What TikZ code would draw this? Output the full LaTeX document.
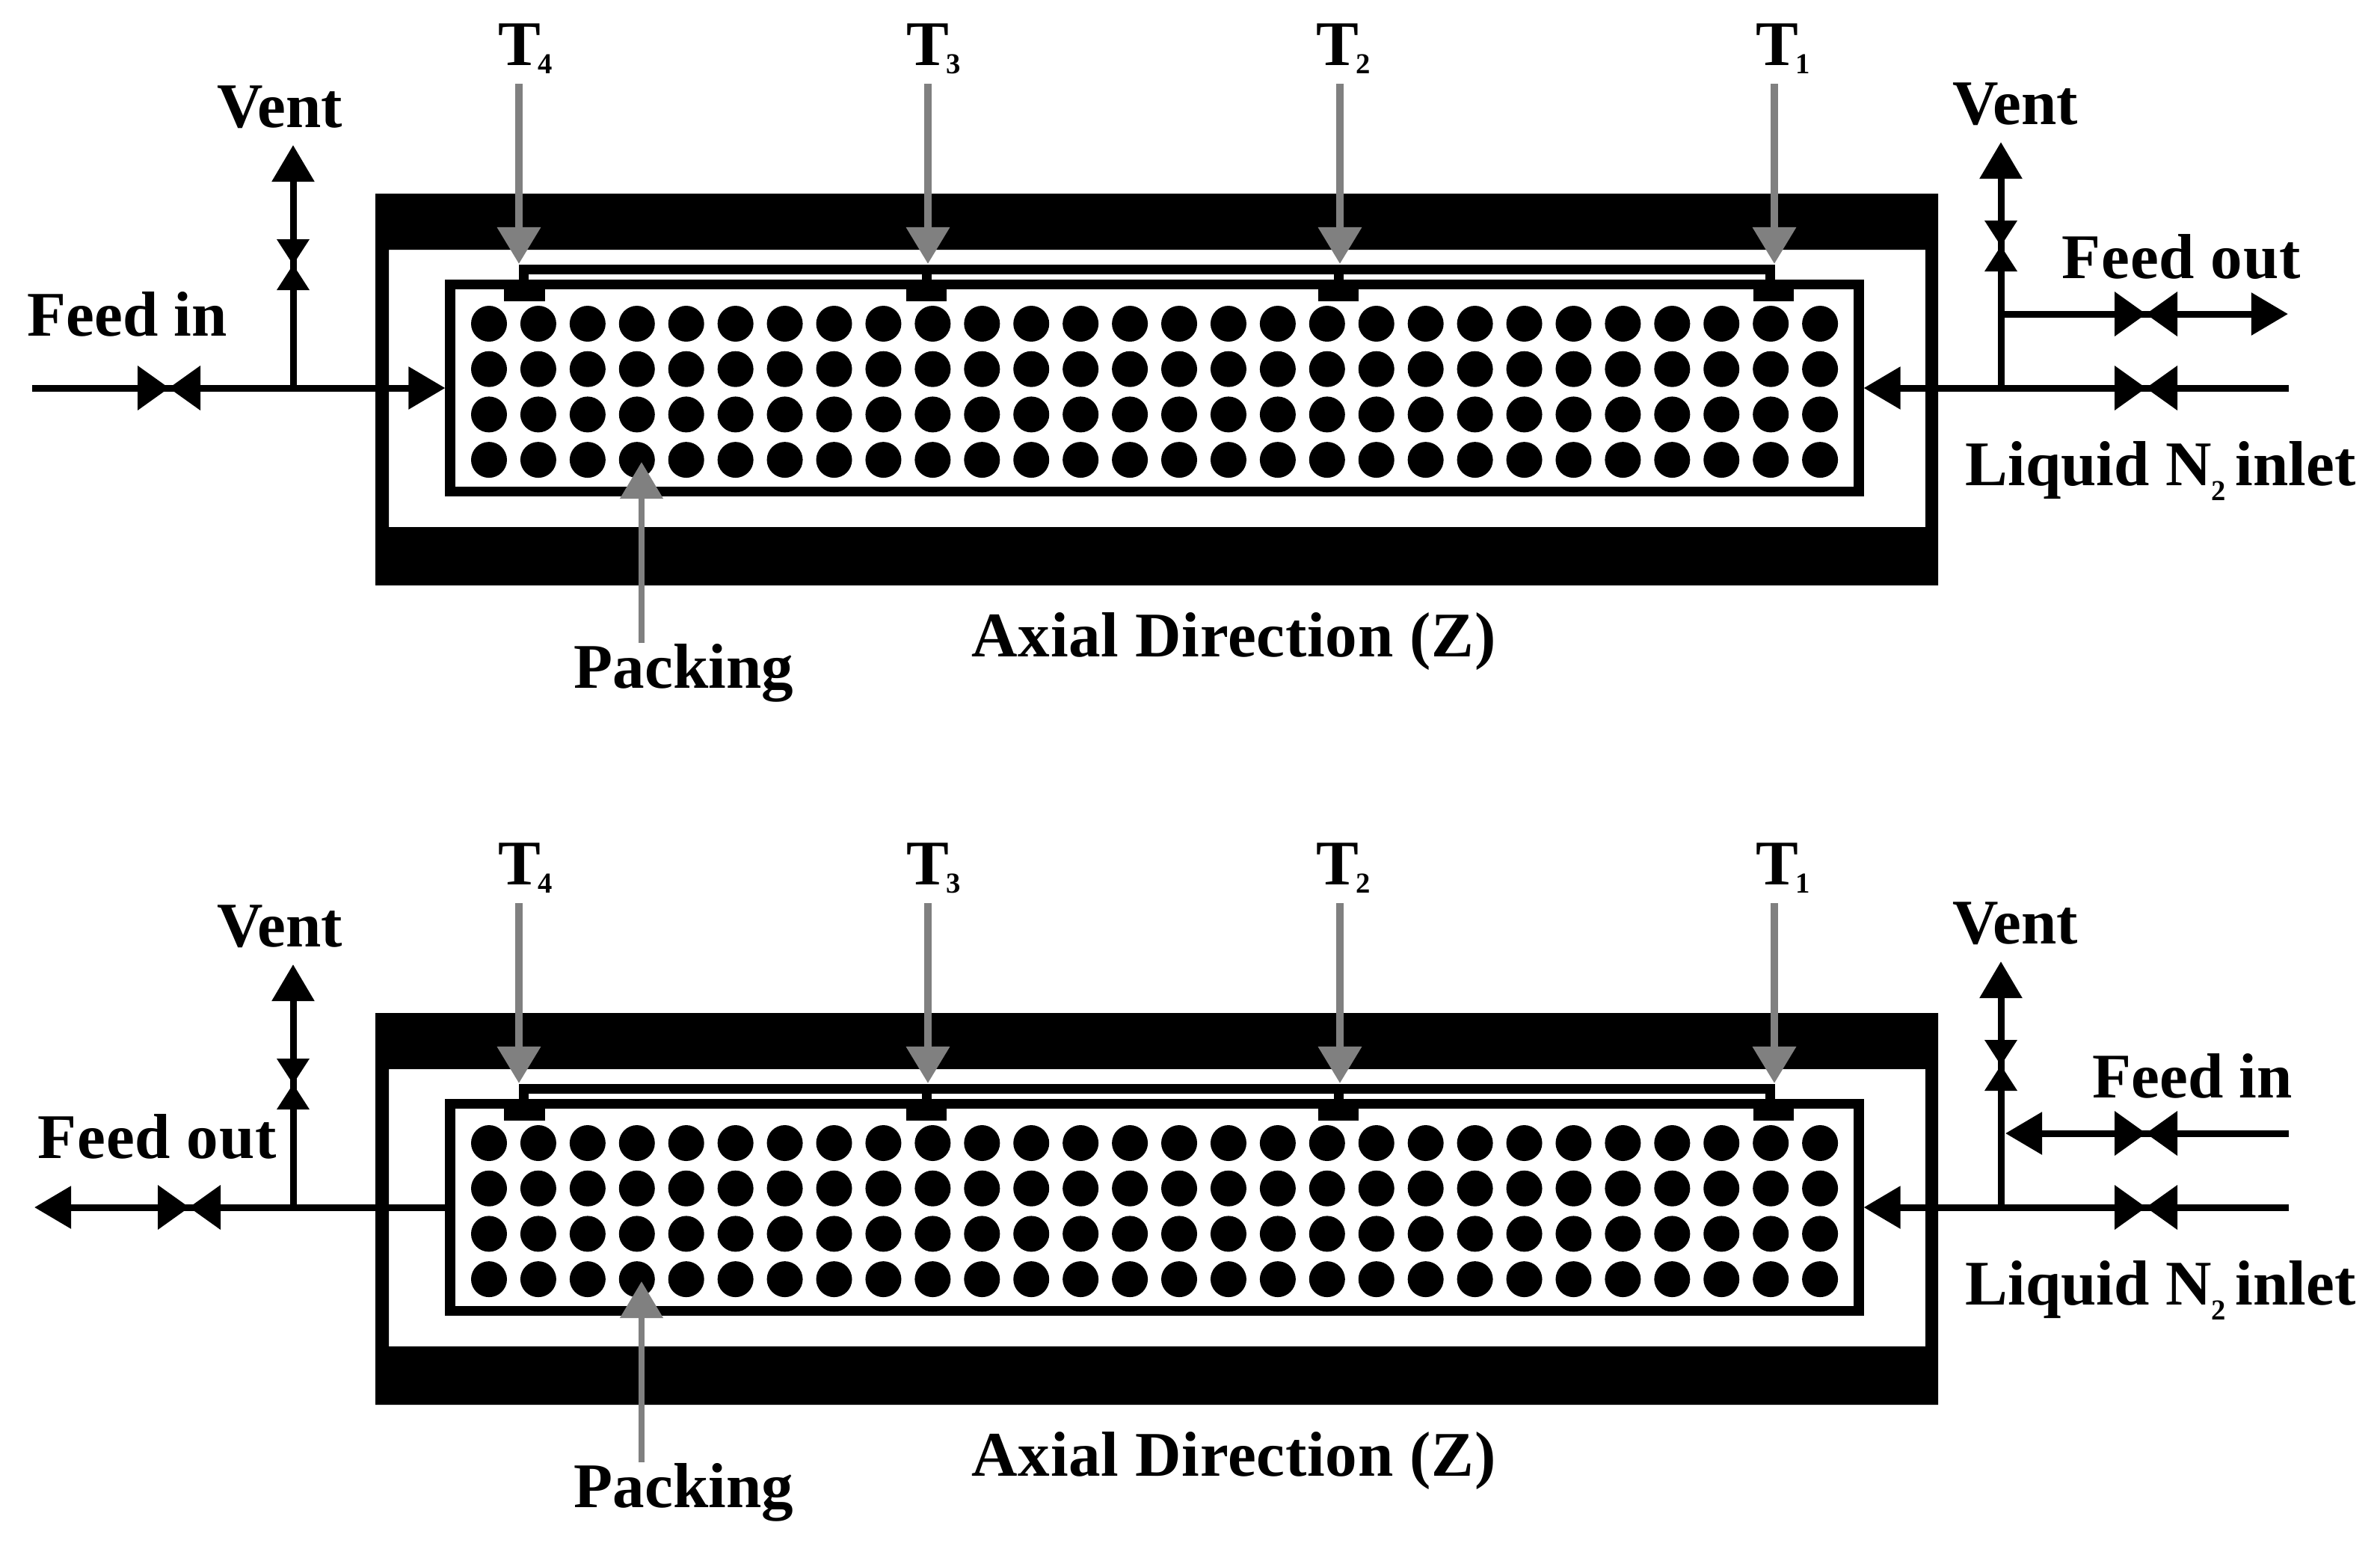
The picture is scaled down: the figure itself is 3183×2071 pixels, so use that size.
\documentclass[tikz,border=0pt]{standalone}
\usepackage{fontspec}
\setmainfont{Liberation Serif}
\usetikzlibrary{arrows.meta}
\newcommand{\subnum}[2][0.11cm]{\raisebox{-#1}{\fontsize{11}{12}\selectfont #2}}

\begin{document}
\begin{tikzpicture}[
    x=0.01cm, y=-0.01cm,
    lbl/.style={anchor=base west, inner sep=0pt, font=\fontsize{24.2}{28}\selectfont\bfseries},
    wide/.style={font=\fontsize{24.2}{28}\selectfont\bfseries\addfontfeature{LetterSpace=0.9}},
    packbox/.style={
        rectangle, draw, line width=1.35mm,
        minimum width=18.825cm, minimum height=2.765cm
    },
    sensor/.style={
        rectangle, fill=black, inner sep=0pt,
        minimum width=5.4mm, minimum height=2.9mm
    },
    pipe/.style={line width=0.9mm},
    arr/.style={pipe, -{Triangle[length=4.9mm, width=5.5mm]}},
    gauge/.style={line width=1mm, draw=gray, -{Triangle[length=4.9mm, width=5.6mm]}, color=gray},
    hvalve/.pic={\fill (-42,-30) -- (42,30) -- (42,-30) -- (-42,30) -- cycle;},
    vvalve/.pic={\fill (-22,-34) -- (22,-34) -- (-22,34) -- (22,34) -- cycle;}
]
\useasboundingbox (0,0) rectangle (3183,2071);

\foreach \dy/\nm in {0/a,1096/b}{
\begin{scope}[shift={(0,\dy)}]
  \fill[even odd rule] (502,259) rectangle (2592,783) (520,334) rectangle (2575,705);
  \node[packbox] (box\nm) at (1544,519) {};
  \foreach \i in {0,...,27}
    \foreach \j in {0,...,3}
      \fill ({654+65.93*\i},{433+60.7*\j}) circle[radius=24];

  \fill (694,354) rectangle (2374,367);
  \foreach \n/\sx/\st/\ax/\tx in {4/701.5/700/694/666, 3/1239/1239/1241/1212, 2/1790/1790/1792/1760, 1/2372/2367/2373/2348}{
    \node[sensor] (s\n\nm) at (\sx,388.5) {};
    \fill (\st-6.5,360) rectangle (\st+6.5,375);
    \node[lbl] (t\n\nm) at (\tx,87) {T\kern-0.04cm\subnum{\n}};
    \coordinate (gs\n\nm) at (\ax,112);
    \coordinate (ge\n\nm) at (\ax,353);
    \draw[gauge] (gs\n\nm) -- (ge\n\nm);
  }

  \coordinate (pks\nm) at (858,860);
  \coordinate (pke\nm) at (858,618);
  \draw[gauge, line width=0.8mm] (pks\nm) -- (pke\nm);
  \node[lbl] (pk\nm) at (767,920) {Packing};
  \node[lbl, wide] (axial\nm) at (1299,878) {Axial Direction (Z)};

  \coordinate (jl\nm) at (392,519);
  \coordinate (vl\nm) at (392,194);
  \draw[arr] (jl\nm) -- (vl\nm);
  \pic at (392,354) {vvalve};
  \node[lbl] (ventl\nm) at (290,170) {Vent};

  \coordinate (lin\nm) at (3061,519);
  \coordinate (jr\nm) at (2676,519);
  \coordinate (vr\nm) at (2676,190);
  \draw[arr] (lin\nm) -- (box\nm.east);
  \draw[arr] (jr\nm) -- (vr\nm);
  \pic at (2870,519) {hvalve};
  \pic at (2676,329) {vvalve};
  \node[lbl] (ventr\nm) at (2611,166) {Vent};
  \node[lbl] (liq\nm) at (2628,649) {Liquid N\subnum[0.2cm]{2}\kern0.13cm inlet};
\end{scope}
}

\coordinate (fina) at (43,519);
\draw[arr] (fina) -- (boxa.west);
\pic at (226,519) {hvalve};
\node[lbl] (feedina) at (36,449) {Feed in};
\coordinate (fouta) at (3060,420);
\coordinate (jta) at (2676,420);
\draw[arr] (jta) -- (fouta);
\pic at (2870,420) {hvalve};
\node[lbl, wide] (feedouta) at (2757,372) {Feed out};

\coordinate (foutb) at (46,1615);
\draw[arr] (boxb.west) -- (foutb);
\pic at (253,1615) {hvalve};
\node[lbl, wide] (feedoutb) at (50,1549) {Feed out};
\coordinate (finb) at (3061,1516);
\coordinate (jtb) at (2682,1516);
\draw[arr] (finb) -- (jtb);
\pic at (2870,1516) {hvalve};
\node[lbl] (feedinb) at (2798,1468) {Feed in};
\end{tikzpicture}
\end{document}
